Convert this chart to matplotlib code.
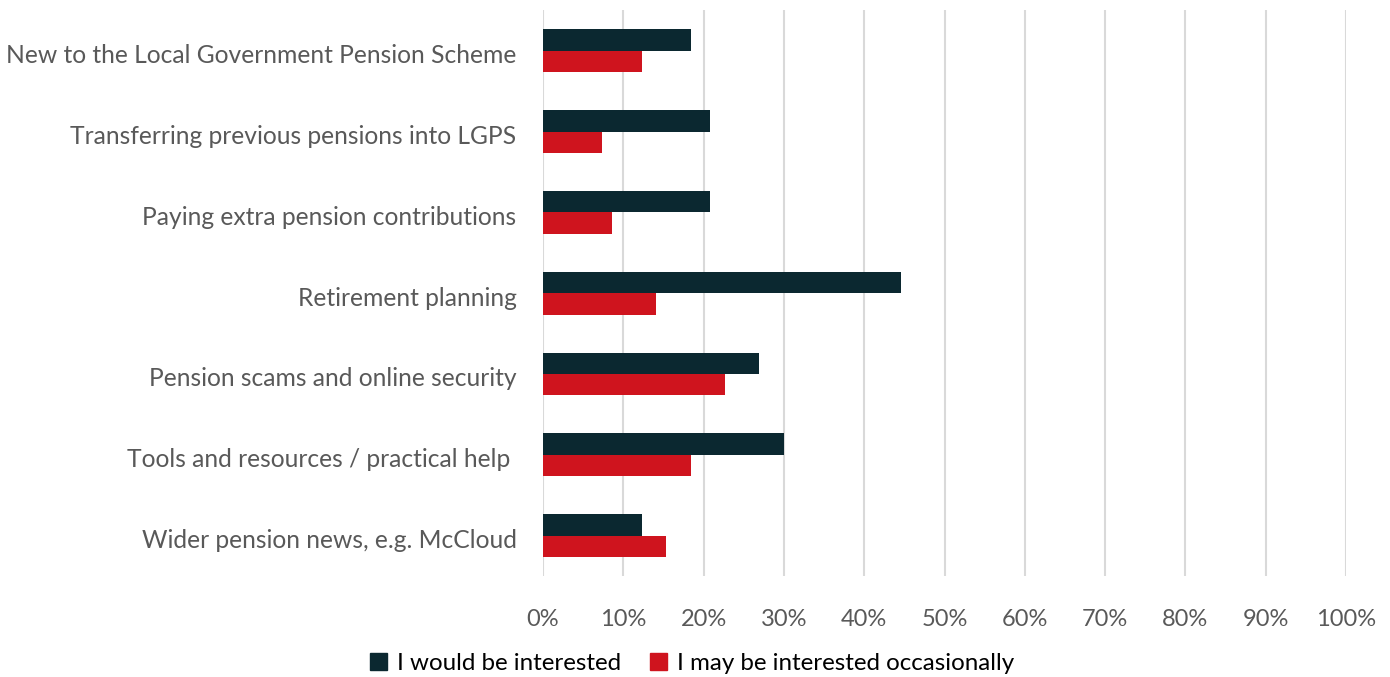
import matplotlib
matplotlib.use("Agg")
import matplotlib.pyplot as plt
import matplotlib.transforms as mtransforms
import numpy as np
from matplotlib.patches import Patch

categories = [
    "New to the Local Government Pension Scheme",
    "Transferring previous pensions into LGPS",
    "Paying extra pension contributions",
    "Retirement planning",
    "Pension scams and online security",
    "Tools and resources / practical help ",
    "Wider pension news, e.g. McCloud",
]
would_be = [18.4, 20.8, 20.8, 44.6, 26.9, 30.0, 12.3]
may_be = [12.3, 7.4, 8.6, 14.1, 22.7, 18.4, 15.3]
series_names = ["I would be interested", "I may be interested occasionally"]
xticks = list(range(0, 101, 10))
xtick_labels = [f"{t}%" for t in xticks]

dark = "#0B2830"
red = "#CF141E"
grid = "#D9D9D9"
txt = "#595959"

plt.rcParams['font.family'] = ['Lato', 'DejaVu Sans']

fig = plt.figure(figsize=(13.9, 6.77), dpi=100)
ax = fig.add_axes([543/1390, 1-576/677, (1346-543)/1390, (576-10.3)/677])

y = np.arange(len(categories))
h = 0.265
ax.barh(y - h/2, would_be, height=h, color=dark, label=series_names[0], zorder=3)
ax.barh(y + h/2, may_be, height=h, color=red, label=series_names[1], zorder=3)

ax.set_ylim(len(categories) - 0.5, -0.5)
ax.set_xlim(0, 100)
ax.set_xticks(xticks)
ax.set_xticklabels(xtick_labels, fontsize=17, color=txt)
ax.set_yticks(y)
ax.set_yticklabels(categories, fontsize=17.7, color=txt)
ax.tick_params(axis='x', length=0, pad=24)
ax.tick_params(axis='y', length=0, pad=19)
offset = mtransforms.ScaledTranslation(0, -3/100, fig.dpi_scale_trans)
for lbl in ax.get_yticklabels():
    lbl.set_transform(lbl.get_transform() + offset)
for s in ax.spines.values():
    s.set_visible(False)
ax.grid(axis='x', color=grid, linewidth=1.5, zorder=0)
ax.set_axisbelow(True)

handles = [Patch(color=dark), Patch(color=red)]
fig.legend(handles, series_names, loc='center', bbox_to_anchor=(692/1390, 1-663/677),
           ncol=2, frameon=False, fontsize=17.4, handlelength=0.7, handleheight=0.7,
           handletextpad=0.4, columnspacing=1.2, labelcolor='#000000')

fig.savefig("out.png", dpi=100)
